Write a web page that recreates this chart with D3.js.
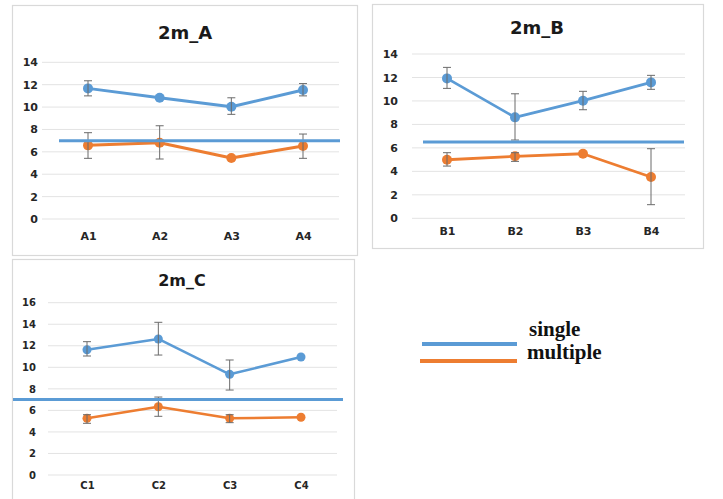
<!DOCTYPE html>
<html><head><meta charset="utf-8">
<script src="https://cdn.jsdelivr.net/npm/d3@7"></script>
<style>body{margin:0;background:#fff}svg{display:block}</style>
</head><body>
<script>
// ---- data ----
const catsA = ["A1","A2","A3","A4"];
const singleA = [11.67, 10.83, 10.03, 11.52];
const singleA_lo = [11.0, null, 9.35, 11.0];
const singleA_hi = [12.35, null, 10.83, 12.1];
const multipleA = [6.58, 6.82, 5.45, 6.52];
const multipleA_lo = [5.42, 5.36, null, 5.42];
const multipleA_hi = [7.71, 8.33, null, 7.59];
const refA = 7.0;

const catsB = ["B1","B2","B3","B4"];
const singleB = [11.92, 8.6, 10.02, 11.58];
const singleB_lo = [11.07, 6.67, 9.25, 10.99];
const singleB_hi = [12.86, 10.61, 10.82, 12.18];
const multipleB = [4.99, 5.28, 5.5, 3.52];
const multipleB_lo = [4.45, 4.85, null, 1.16];
const multipleB_hi = [5.59, 5.59, null, 5.93];
const refB = 6.5;

const catsC = ["C1","C2","C3","C4"];
const singleC = [11.63, 12.63, 9.35, 10.96];
const singleC_lo = [11.05, 11.14, 7.89, null];
const singleC_hi = [12.38, 14.18, 10.68, null];
const multipleC = [5.26, 6.34, 5.26, 5.36];
const multipleC_lo = [4.8, 5.45, 4.86, null];
const multipleC_hi = [5.6, 7.24, 5.6, null];
const refC = 7.0;

const ticksAB = [0,2,4,6,8,10,12,14];
const ticksC = [0,2,4,6,8,10,12,14,16];
const legendLabels = ["single","multiple"];

// ---- styles ----
const BLUE = "#5B9BD5", ORANGE = "#ED7D31";
const W = 723, H = 499;
const svg = d3.select("body").append("svg").attr("width", W).attr("height", H);

const panels = [
  { title:"2m_A", cats:catsA, s:singleA, sl:singleA_lo, sh:singleA_hi, m:multipleA, ml:multipleA_lo, mh:multipleA_hi, ref:refA, ticks:ticksAB,
    box:[12,5,345,250], y:[219,62.3], x:[88,303], grid:[42,339], refX:[59,340], tickX:38, catY:242, titleX:185, titleY:39,
    fs:11, tfs:18, lw:3, r:5 },
  { title:"2m_B", cats:catsB, s:singleB, sl:singleB_lo, sh:singleB_hi, m:multipleB, ml:multipleB_lo, mh:multipleB_hi, ref:refB, ticks:ticksAB,
    box:[372,4,331,244], y:[218.3,54], x:[447,651], grid:[412,685], refX:[423,684], tickX:398, catY:237, titleX:537, titleY:34,
    fs:11, tfs:18, lw:2.8, r:5 },
  { title:"2m_C", cats:catsC, s:singleC, sl:singleC_lo, sh:singleC_hi, m:multipleC, ml:multipleC_lo, mh:multipleC_hi, ref:refC, ticks:ticksC,
    box:[12,259,342,250], y:[475,302.7], x:[87,301], grid:[48,337], refX:[13,343], tickX:36, catY:492, titleX:182, titleY:286,
    fs:10, tfs:16, lw:2.5, r:4.5 }
];

panels.forEach(p => {
  const g = svg.append("g");
  g.append("rect").attr("x",p.box[0]+0.5).attr("y",p.box[1]+0.5).attr("width",p.box[2]).attr("height",p.box[3])
    .attr("fill","#fff").attr("stroke","#d9d9d9").attr("stroke-width",1.2);
  const y = d3.scaleLinear().domain([0, d3.max(p.ticks)]).range(p.y);
  const x = d3.scalePoint().domain(p.cats).range(p.x);

  // gridlines
  g.selectAll(".grid").data(p.ticks).join("line")
    .attr("x1",p.grid[0]).attr("x2",p.grid[1]).attr("y1",d=>y(d)).attr("y2",d=>y(d))
    .attr("stroke","#e3e3e3").attr("stroke-width",1);
  // y tick labels via axis
  const ya = g.append("g").attr("transform",`translate(${p.tickX},0)`)
    .call(d3.axisLeft(y).tickValues(p.ticks).tickSize(0).tickPadding(0));
  ya.select(".domain").remove();
  ya.selectAll("text").attr("font-family","DejaVu Sans").attr("font-weight","bold").attr("font-size",p.fs).attr("fill","#262626");
  // x labels via axis
  const xa = g.append("g").attr("transform",`translate(0,${p.catY - 10})`)
    .call(d3.axisBottom(x).tickSize(0).tickPadding(0));
  xa.select(".domain").remove();
  xa.selectAll("text").attr("font-family","DejaVu Sans").attr("font-weight","bold").attr("font-size",p.fs).attr("fill","#262626").attr("dy","0.71em");

  // title
  g.append("text").attr("x",p.titleX).attr("y",p.titleY).attr("text-anchor","middle")
    .attr("font-family","DejaVu Sans").attr("font-weight","bold").attr("font-size",p.tfs).attr("fill","#1a1a1a").text(p.title);

  // series
  const series = [
    {v:p.s, lo:p.sl, hi:p.sh, c:BLUE},
    {v:p.m, lo:p.ml, hi:p.mh, c:ORANGE}
  ];
  series.forEach(s => {
    const pts = p.cats.map((c,i)=>({c, v:s.v[i], lo:s.lo[i], hi:s.hi[i]}));
    g.append("path").datum(pts).attr("fill","none").attr("stroke",s.c).attr("stroke-width",p.lw)
      .attr("stroke-linejoin","round")
      .attr("d", d3.line().x(d=>x(d.c)).y(d=>y(d.v)));
    g.selectAll(null).data(pts).join("circle")
      .attr("cx",d=>x(d.c)).attr("cy",d=>y(d.v)).attr("r",p.r).attr("fill",s.c);
    const eb = pts.filter(d=>d.lo!=null);
    const eg = g.selectAll(null).data(eb).join("g").attr("stroke","#6b6b6b").attr("stroke-width",1);
    eg.append("line").attr("x1",d=>x(d.c)).attr("x2",d=>x(d.c)).attr("y1",d=>y(d.lo)).attr("y2",d=>y(d.hi));
    eg.append("line").attr("x1",d=>x(d.c)-4).attr("x2",d=>x(d.c)+4).attr("y1",d=>y(d.lo)).attr("y2",d=>y(d.lo));
    eg.append("line").attr("x1",d=>x(d.c)-4).attr("x2",d=>x(d.c)+4).attr("y1",d=>y(d.hi)).attr("y2",d=>y(d.hi));
  });

  // reference horizontal line
  g.append("line").attr("x1",p.refX[0]).attr("x2",p.refX[1]).attr("y1",y(p.ref)).attr("y2",y(p.ref))
    .attr("stroke",BLUE).attr("stroke-width",3);
});

// legend
const leg = svg.append("g");
const legColors = [BLUE, ORANGE];
const legLines = [[422,517,344],[420,517,361]];
const legText = [[529,336],[527,359]];
legendLabels.forEach((t,i)=>{
  leg.append("line").attr("x1",legLines[i][0]).attr("x2",legLines[i][1]).attr("y1",legLines[i][2]).attr("y2",legLines[i][2])
    .attr("stroke",legColors[i]).attr("stroke-width",4);
  leg.append("text").attr("x",legText[i][0]).attr("y",legText[i][1])
    .attr("font-family","Liberation Serif").attr("font-weight","bold").attr("font-size",21).attr("fill","#111").text(t);
});
</script>
</body></html>
